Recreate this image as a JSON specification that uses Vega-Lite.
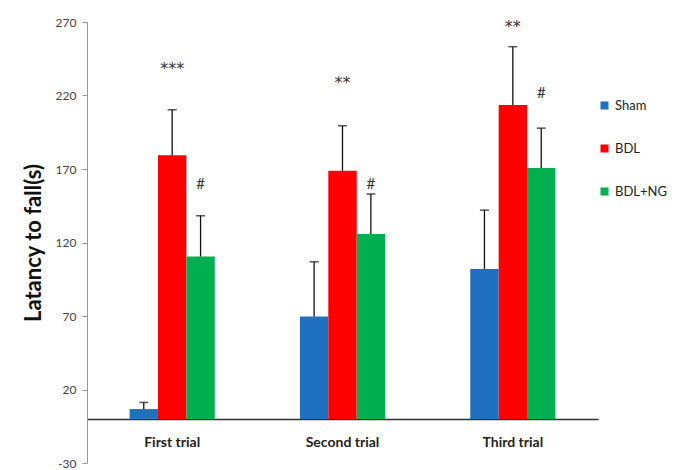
{
  "$schema": "https://vega.github.io/schema/vega-lite/v6.json",
  "width": 511,
  "height": 441,
  "autosize": {"type": "none"},
  "padding": {"left": 87, "top": 22, "right": 81, "bottom": 7},
  "background": "white",
  "config": {"view": {"stroke": null}, "font": "Lato"},
  "data": {
    "values": [
      {"trial": "First trial", "group": "Sham", "mean": 6.7, "upper": 11.2},
      {"trial": "First trial", "group": "BDL", "mean": 179.3, "upper": 210.3},
      {"trial": "First trial", "group": "BDL+NG", "mean": 110.5, "upper": 138.2},
      {"trial": "Second trial", "group": "Sham", "mean": 69.7, "upper": 106.9},
      {"trial": "Second trial", "group": "BDL", "mean": 168.8, "upper": 199.4},
      {"trial": "Second trial", "group": "BDL+NG", "mean": 125.7, "upper": 153},
      {"trial": "Third trial", "group": "Sham", "mean": 101.9, "upper": 142},
      {"trial": "Third trial", "group": "BDL", "mean": 213.5, "upper": 253.2},
      {"trial": "Third trial", "group": "BDL+NG", "mean": 170.6, "upper": 197.8}
    ]
  },
  "encoding": {
    "x": {
      "field": "trial",
      "type": "nominal",
      "sort": ["First trial", "Second trial", "Third trial"],
      "scale": {"paddingInner": 0.5, "paddingOuter": 0.25},
      "axis": {
        "title": null,
        "offset": -44,
        "domainColor": "#333",
        "domainWidth": 1.5,
        "ticks": false,
        "labelPadding": 16,
        "labelAngle": 0,
        "labelFontWeight": "bold",
        "labelFontSize": 14,
        "labelColor": "#222"
      }
    },
    "xOffset": {"field": "group", "type": "nominal", "sort": ["Sham", "BDL", "BDL+NG"]}
  },
  "layer": [
    {
      "mark": {"type": "bar"},
      "encoding": {
        "y": {
          "field": "mean",
          "type": "quantitative",
          "scale": {"domain": [-30, 270], "nice": false, "zero": false},
          "axis": {
            "values": [-30, 20, 70, 120, 170, 220, 270],
            "labelExpr": "toString(datum.value)",
            "title": "Latancy to fall(s)",
            "grid": false,
            "domainColor": "#999",
            "tickColor": "#999",
            "tickSize": 5,
            "labelColor": "#444",
            "labelFontSize": 12,
            "labelPadding": 6,
            "titleFontSize": 22,
            "titleFontWeight": "bold",
            "titleColor": "#111",
            "titlePadding": 10
          }
        },
        "y2": {"datum": 0},
        "color": {
          "field": "group",
          "type": "nominal",
          "sort": ["Sham", "BDL", "BDL+NG"],
          "scale": {"domain": ["Sham", "BDL", "BDL+NG"], "range": ["#1F70C1", "#FF0000", "#00B050"]},
          "legend": {
            "title": null,
            "orient": "none",
            "legendX": 511,
            "legendY": 77,
            "symbolType": "square",
            "symbolSize": 64,
            "symbolStrokeWidth": 0,
            "labelFontSize": 13,
            "labelColor": "#222",
            "rowPadding": 29
          }
        }
      }
    },
    {
      "mark": {"type": "rule", "color": "#111", "strokeWidth": 1.3},
      "encoding": {
        "y": {"field": "mean", "type": "quantitative"},
        "y2": {"field": "upper"}
      }
    },
    {
      "mark": {"type": "tick", "color": "#111", "thickness": 1.5, "size": 9},
      "encoding": {
        "y": {"field": "upper", "type": "quantitative"}
      }
    },
    {
      "data": {
        "values": [
          {"trial": "First trial", "group": "BDL", "sig": "***", "pos": 238},
          {"trial": "Second trial", "group": "BDL", "sig": "**", "pos": 228.5},
          {"trial": "Third trial", "group": "BDL", "sig": "**", "pos": 266.5}
        ]
      },
      "mark": {"type": "text", "fontSize": 16, "font": "DejaVu Sans", "color": "#333", "letterSpacing": 2},
      "encoding": {
        "y": {"field": "pos", "type": "quantitative"},
        "text": {"field": "sig"}
      }
    },
    {
      "data": {
        "values": [
          {"trial": "First trial", "group": "BDL+NG", "sig": "#", "pos": 160},
          {"trial": "Second trial", "group": "BDL+NG", "sig": "#", "pos": 159.5},
          {"trial": "Third trial", "group": "BDL+NG", "sig": "#", "pos": 222}
        ]
      },
      "mark": {"type": "text", "fontSize": 15, "color": "#333"},
      "encoding": {
        "y": {"field": "pos", "type": "quantitative"},
        "text": {"field": "sig"}
      }
    }
  ]
}
